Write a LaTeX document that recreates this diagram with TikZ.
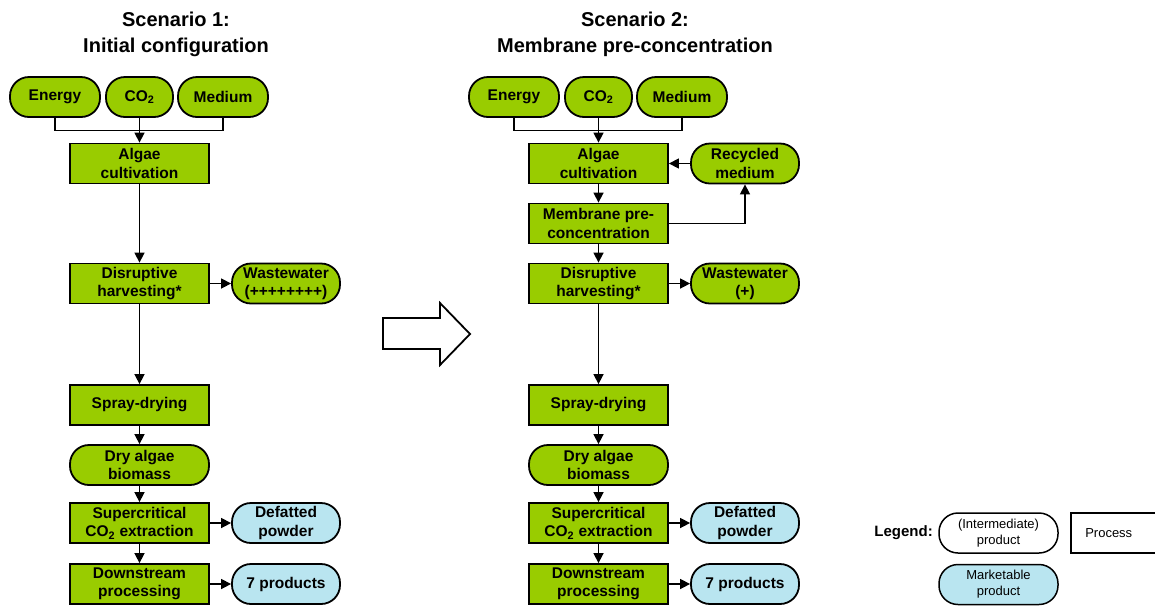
\documentclass[tikz,border=0pt]{standalone}
\usepackage{fontspec}
\setmainfont{Liberation Sans}
\usetikzlibrary{arrows.meta}
\definecolor{grn}{RGB}{153,204,0}
\definecolor{lblue}{RGB}{185,229,240}
\tikzset{
  box/.style={draw=black, line width=1.8pt, inner sep=0pt, align=center,
    font=\bfseries\fontsize{15.5}{18.3}\selectfont},
  proc/.style={box, rectangle, fill=grn, minimum width=139pt, minimum height=40pt},
  prod/.style={box, rectangle, rounded corners=19pt, fill=grn, minimum height=40pt},
  mprod/.style={prod, fill=lblue},
  conn/.style={line width=1.5pt},
  arr/.style={conn, -{Triangle[length=10pt,width=10pt]}},
  ttl/.style={align=center, font=\bfseries\fontsize{20}{26}\selectfont, inner sep=0pt},
  leg/.style={draw=black, line width=1.5pt, inner sep=0pt, align=center,
    font=\fontsize{13}{16}\selectfont, minimum height=40pt},
}
\begin{document}
\begin{tikzpicture}[x=1pt,y=-1pt]
\useasboundingbox (0,0) rectangle (1155,606);

% ---------- Scenario 1 ----------
\node[ttl] (t1) at (176,34) {Scenario 1:\\Initial configuration};
\node[prod, minimum width=90pt] (e1) at (55,97) {Energy};
\node[prod, minimum width=67pt] (c1) at (139.5,97) {CO\textsubscript{2}};
\node[prod, minimum width=90pt] (m1) at (223,97) {Medium};
\node[proc] (a1) at (139.5,163.5) {Algae\\cultivation};
\node[proc] (d1) at (139.5,283.5) {Disruptive\\harvesting*};
\node[prod, minimum width=108pt] (w1) at (286,283.5) {Wastewater\\(++++++++)};
\node[proc] (s1) at (139.5,405) {Spray-drying};
\node[prod, minimum width=139pt] (b1) at (139.5,465) {Dry algae\\biomass};
\node[proc] (x1) at (139.5,523) {Supercritical\\CO\textsubscript{2} extraction};
\node[mprod, minimum width=108pt] (f1) at (286,523) {Defatted\\powder};
\node[proc] (p1) at (139.5,584) {Downstream\\processing};
\node[mprod, minimum width=108pt] (q1) at (286,584) {7 products};

\draw[conn, line width=1.1pt] (e1.south) -- ++(0,13) -| (m1.south);
\draw[arr] (c1.south) -- (a1.north);
\draw[arr] (a1.south) -- (d1.north);
\draw[arr] (d1.east) -- (w1.west);
\draw[arr] (d1.south) -- (s1.north);
\draw[arr] (s1.south) -- (b1.north);
\draw[arr] (b1.south) -- (x1.north);
\draw[arr] (x1.east) -- (f1.west);
\draw[arr] (x1.south) -- (p1.north);
\draw[arr] (p1.east) -- (q1.west);

% ---------- big arrow ----------
\draw[line width=1.8pt, fill=white] (383,318) -- (440,318) -- (440,303) -- (470,334)
  -- (440,365) -- (440,349) -- (383,349) -- cycle;

% ---------- Scenario 2 ----------
\node[ttl] (t2) at (635,34) {Scenario 2:\\Membrane pre-concentration};
\node[prod, minimum width=90pt] (e2) at (514,97) {Energy};
\node[prod, minimum width=67pt] (c2) at (598.5,97) {CO\textsubscript{2}};
\node[prod, minimum width=90pt] (m2) at (682,97) {Medium};
\node[proc] (a2) at (598.5,163.5) {Algae\\cultivation};
\node[prod, minimum width=108pt] (r2) at (745,163.5) {Recycled\\medium};
\node[proc] (n2) at (598.5,223.5) {Membrane pre-\\concentration};
\node[proc] (d2) at (598.5,283.5) {Disruptive\\harvesting*};
\node[prod, minimum width=108pt] (w2) at (745,283.5) {Wastewater\\(+)};
\node[proc] (s2) at (598.5,405) {Spray-drying};
\node[prod, minimum width=139pt] (b2) at (598.5,465) {Dry algae\\biomass};
\node[proc] (x2) at (598.5,523) {Supercritical\\CO\textsubscript{2} extraction};
\node[mprod, minimum width=108pt] (f2) at (745,523) {Defatted\\powder};
\node[proc] (p2) at (598.5,584) {Downstream\\processing};
\node[mprod, minimum width=108pt] (q2) at (745,584) {7 products};

\draw[conn, line width=1.1pt] (e2.south) -- ++(0,13) -| (m2.south);
\draw[arr] (c2.south) -- (a2.north);
\draw[arr] (r2.west) -- (a2.east);
\draw[arr] (a2.south) -- (n2.north);
\draw[arr] (n2.east) -| (r2.south);
\draw[arr] (n2.south) -- (d2.north);
\draw[arr] (d2.east) -- (w2.west);
\draw[arr] (d2.south) -- (s2.north);
\draw[arr] (s2.south) -- (b2.north);
\draw[arr] (b2.south) -- (x2.north);
\draw[arr] (x2.east) -- (f2.west);
\draw[arr] (x2.south) -- (p2.north);
\draw[arr] (p2.east) -- (q2.west);

% ---------- Legend ----------
\node[anchor=east, inner sep=0pt, font=\bfseries\fontsize{15}{18}\selectfont] (lg) at (933,533) {Legend:};
\node[leg, rectangle, rounded corners=19pt, fill=white, minimum width=119pt] (li) at (998.5,533) {(Intermediate)\\product};
\node[leg, rectangle, fill=white, minimum width=90pt, anchor=west] (lp) at (1070,533) {\hspace*{-14pt}Process};
\node[leg, rectangle, rounded corners=19pt, fill=lblue, minimum width=119pt] (lm) at (998.5,584.5) {Marketable\\product};
\end{tikzpicture}
\end{document}
